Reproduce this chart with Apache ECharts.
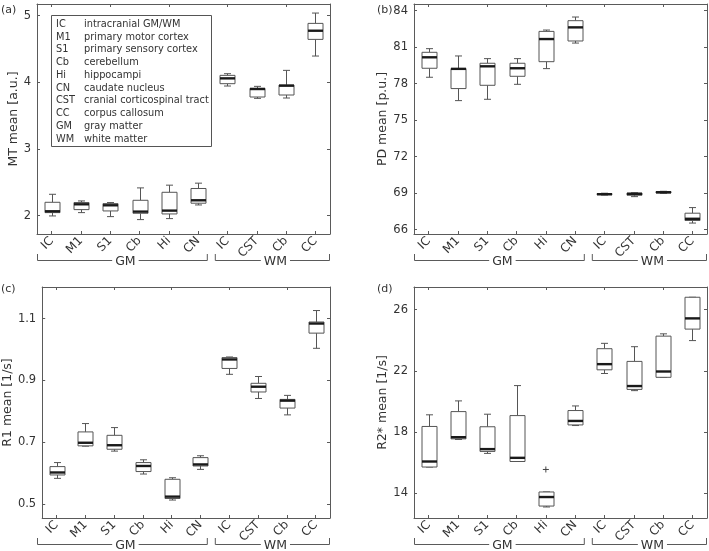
<!DOCTYPE html>
<html>
<head>
<meta charset="utf-8">
<script src="https://cdn.jsdelivr.net/npm/echarts@6/dist/echarts.min.js"></script>
<style>
  html, body { margin: 0; padding: 0; background: #fff; }
  #main { width: 709px; height: 551px; }
</style>
</head>
<body>
<div id="main"></div>
<script>
// categories (GM: first 6, WM: last 4)
const categories = ["IC", "M1", "S1", "Cb", "Hi", "CN", "IC", "CST", "Cb", "CC"];
const gmCount = 6;

// box values: [min, q1, median, q3, max]
const mtBoxes = [
  [1.995, 2.045, 2.065, 2.2, 2.32],
  [2.045, 2.09, 2.17, 2.196, 2.22],
  [1.985, 2.07, 2.155, 2.18, 2.196],
  [1.94, 2.035, 2.06, 2.23, 2.416],
  [1.955, 2.025, 2.075, 2.35, 2.457],
  [2.16, 2.186, 2.23, 2.407, 2.487],
  [3.945, 3.98, 4.06, 4.105, 4.13],
  [3.76, 3.78, 3.9, 3.91, 3.94],
  [3.765, 3.81, 3.95, 3.96, 4.18],
  [4.395, 4.645, 4.775, 4.885, 5.04]
];
const pdBoxes = [
  [78.53, 79.27, 80.17, 80.58, 80.88],
  [76.61, 77.6, 79.22, 79.25, 80.28],
  [76.72, 77.87, 79.43, 79.68, 80.06],
  [77.95, 78.61, 79.27, 79.68, 80.06],
  [79.24, 79.81, 81.67, 82.3, 82.41],
  [81.34, 81.51, 82.63, 83.18, 83.48],
  [68.85, 68.88, 68.92, 68.97, 69.0],
  [68.72, 68.84, 68.94, 69.02, 69.05],
  [68.99, 69.02, 69.08, 69.14, 69.16],
  [66.55, 66.76, 66.9, 67.36, 67.82]
];
const r1Boxes = [
  [0.584, 0.595, 0.603, 0.622, 0.635],
  [0.688, 0.689, 0.699, 0.734, 0.761],
  [0.672, 0.678, 0.691, 0.723, 0.748],
  [0.598, 0.606, 0.624, 0.635, 0.644],
  [0.514, 0.519, 0.525, 0.581, 0.586],
  [0.613, 0.624, 0.629, 0.651, 0.657],
  [0.92, 0.939, 0.968, 0.974, 0.976],
  [0.842, 0.863, 0.88, 0.891, 0.913],
  [0.789, 0.811, 0.835, 0.839, 0.852],
  [1.004, 1.053, 1.084, 1.089, 1.126]
];
const r2Boxes = [
  [15.72, 15.72, 16.08, 18.37, 19.13],
  [17.52, 17.56, 17.67, 19.34, 20.04],
  [16.61, 16.74, 16.89, 18.35, 19.17],
  [16.08, 16.08, 16.32, 19.08, 21.04],
  [13.11, 13.17, 13.76, 14.09, 14.09],
  [18.43, 18.47, 18.73, 19.41, 19.71],
  [21.83, 22.07, 22.44, 23.45, 23.8],
  [20.71, 20.79, 21.01, 22.62, 23.58],
  [21.58, 21.58, 21.96, 24.27, 24.42],
  [23.98, 24.73, 25.43, 26.81, 26.81]
];
// outliers: [category index, value]
const r2Outliers = [[4, 15.56]];

// tick values
const mtTicks = [2, 3, 4, 5];
const pdTicks = [66, 69, 72, 75, 78, 81, 84];
const r1Ticks = [0.5, 0.7, 0.9, 1.1];
const r2Ticks = [14, 18, 22, 26];

// legend rows
const legendAbbr = ["IC", "M1", "S1", "Cb", "Hi", "CN", "CST", "CC", "GM", "WM"];
const legendDesc = ["intracranial GM/WM", "primary motor cortex", "primary sensory cortex", "cerebellum",
  "hippocampi", "caudate nucleus", "cranial corticospinal tract", "corpus callosum", "gray matter", "white matter"];

const FONT = "DejaVu Sans";
const AXIS_COLOR = "#5a5a5a";
const TEXT_COLOR = "#333";

// panel layout
const panels = [
  { tag: "(a)", name: "MT mean [a.u.]", boxes: mtBoxes, ticks: mtTicks, min: 1.724, max: 5.176, gap: 13, fmt: v => String(v),
    left: 37, top: 4, height: 230 },
  { tag: "(b)", name: "PD mean [p.u.]", boxes: pdBoxes, ticks: pdTicks, min: 65.65, max: 84.55, gap: 24, fmt: v => String(v),
    left: 414, top: 4, height: 230 },
  { tag: "(c)", name: "R1 mean [1/s]", boxes: r1Boxes, ticks: r1Ticks, min: 0.456, max: 1.202, gap: 23, fmt: v => v.toFixed(1),
    left: 37, top: 287, height: 231 },
  { tag: "(d)", name: "R2* mean [1/s]", boxes: r2Boxes, ticks: r2Ticks, min: 12.39, max: 27.48, gap: 19, fmt: v => String(v),
    left: 414, top: 287, height: 231, outliers: r2Outliers }
];
const GRID_W = 293;

const chart = echarts.init(document.getElementById("main"));

// 画箱线图
function renderBox(params, api) {
  const x = api.value(0);
  const p = [1, 2, 3, 4, 5].map(d => api.coord([x, api.value(d)]));
  const cx = Math.round(p[0][0]) + 0.5;
  const hw = 7.5, cw = 3.5;
  const ls = { stroke: "#555", lineWidth: 1, fill: null };
  return {
    type: "group",
    children: [
      { type: "line", shape: { x1: cx, y1: p[4][1], x2: cx, y2: p[3][1] }, style: ls },
      { type: "line", shape: { x1: cx, y1: p[0][1], x2: cx, y2: p[1][1] }, style: ls },
      { type: "line", shape: { x1: cx - cw, y1: p[4][1], x2: cx + cw, y2: p[4][1] }, style: ls },
      { type: "line", shape: { x1: cx - cw, y1: p[0][1], x2: cx + cw, y2: p[0][1] }, style: ls },
      { type: "rect", shape: { x: cx - hw, y: p[3][1], width: 2 * hw, height: Math.max(p[1][1] - p[3][1], 1) },
        style: { fill: "#fff", stroke: "#555", lineWidth: 1 } },
      { type: "line", shape: { x1: cx - hw, y1: p[2][1], x2: cx + hw, y2: p[2][1] },
        style: { stroke: "#1a1a1a", lineWidth: 2.4 } }
    ]
  };
}

function renderPlus(params, api) {
  const c = api.coord([api.value(0), api.value(1)]);
  const s = { stroke: "#444", lineWidth: 1 };
  return {
    type: "group",
    children: [
      { type: "line", shape: { x1: c[0] - 3, y1: c[1], x2: c[0] + 3, y2: c[1] }, style: s },
      { type: "line", shape: { x1: c[0], y1: c[1] - 3, x2: c[0], y2: c[1] + 3 }, style: s }
    ]
  };
}

const grid = [], xAxis = [], yAxis = [], series = [], graphic = [];

panels.forEach((pn, i) => {
  grid.push({ left: pn.left, top: pn.top, width: GRID_W, height: pn.height });
  const tickStyle = { show: true, inside: true, length: 3, alignWithLabel: true, lineStyle: { color: AXIS_COLOR } };
  const lineStyle = { show: true, lineStyle: { color: AXIS_COLOR, width: 1 } };
  xAxis.push({
    type: "category", gridIndex: i, data: categories, position: "bottom",
    axisLine: lineStyle, axisTick: tickStyle, splitLine: { show: false },
    axisLabel: { rotate: 45, margin: 5, fontFamily: FONT, fontSize: 12, color: TEXT_COLOR, interval: 0 }
  });
  xAxis.push({
    type: "category", gridIndex: i, data: categories, position: "top",
    axisLine: lineStyle, axisTick: tickStyle, axisLabel: { show: false }, splitLine: { show: false }
  });
  yAxis.push({
    type: "value", gridIndex: i, min: pn.min, max: pn.max, position: "left",
    name: pn.name, nameLocation: "middle", nameGap: pn.gap,
    nameTextStyle: { fontFamily: FONT, fontSize: 12.5, color: TEXT_COLOR },
    axisLine: lineStyle, splitLine: { show: false },
    axisTick: { show: true, inside: true, length: 3, customValues: pn.ticks, lineStyle: { color: AXIS_COLOR } },
    axisLabel: { customValues: pn.ticks, formatter: pn.fmt, margin: 6, fontFamily: FONT, fontSize: 11.5, color: TEXT_COLOR }
  });
  yAxis.push({
    type: "value", gridIndex: i, min: pn.min, max: pn.max, position: "right",
    axisLine: lineStyle, splitLine: { show: false }, axisLabel: { show: false },
    axisTick: { show: true, inside: true, length: 3, customValues: pn.ticks, lineStyle: { color: AXIS_COLOR } }
  });
  series.push({
    type: "custom", xAxisIndex: 2 * i, yAxisIndex: 2 * i,
    data: pn.boxes.map((b, k) => [k].concat(b)),
    encode: { x: 0, y: [1, 2, 3, 4, 5] },
    renderItem: renderBox, silent: true
  });
  if (pn.outliers) {
    series.push({
      type: "custom", xAxisIndex: 2 * i, yAxisIndex: 2 * i,
      data: pn.outliers, encode: { x: 0, y: 1 }, renderItem: renderPlus, silent: true
    });
  }

  // 面板标签
  graphic.push({
    type: "text", left: pn.left === 37 ? 1 : 377, top: pn.top + (i < 2 ? 1 : -3),
    style: { text: pn.tag, fontFamily: FONT, fontSize: 11, fill: TEXT_COLOR }
  });

  // GM / WM brackets
  const bw = GRID_W / categories.length;
  const by = pn.top + pn.height + 26;
  const segs = [
    { label: "GM", x1: pn.left, x2: pn.left + gmCount * bw - 5 },
    { label: "WM", x1: pn.left + gmCount * bw + 2, x2: pn.left + GRID_W }
  ];
  segs.forEach(s => {
    graphic.push({
      type: "polyline", silent: true,
      shape: { points: [[s.x1 + 0.5, by - 6], [s.x1 + 0.5, by + 0.5], [s.x2 - 0.5, by + 0.5], [s.x2 - 0.5, by - 6]] },
      style: { stroke: AXIS_COLOR, lineWidth: 1, fill: null }
    });
    graphic.push({
      type: "text", silent: true, x: (s.x1 + s.x2) / 2 + 3, y: by + 2,
      style: { text: s.label, fontFamily: FONT, fontSize: 12.5, fill: TEXT_COLOR, align: "center",
        verticalAlign: "middle", backgroundColor: "#fff", padding: [0, 3] }
    });
  });
});

// 图例框 (panel a)
graphic.push({
  type: "rect", silent: true, shape: { x: 51.5, y: 15.5, width: 160, height: 131 },
  style: { fill: "#fff", stroke: "#555", lineWidth: 1 }, z: 10
});
legendAbbr.forEach((a, k) => {
  const y = 24.3 + k * 12.74;
  graphic.push({ type: "text", silent: true, x: 56, y: y, z: 11,
    style: { text: a, fontFamily: FONT, fontSize: 9.8, fill: TEXT_COLOR, verticalAlign: "middle" } });
  graphic.push({ type: "text", silent: true, x: 84, y: y, z: 11,
    style: { text: legendDesc[k], fontFamily: FONT, fontSize: 9.8, fill: TEXT_COLOR, verticalAlign: "middle" } });
});

chart.setOption({
  animation: false,
  backgroundColor: "#fff",
  grid: grid,
  xAxis: xAxis,
  yAxis: yAxis,
  series: series,
  graphic: graphic
});
</script>
</body>
</html>
